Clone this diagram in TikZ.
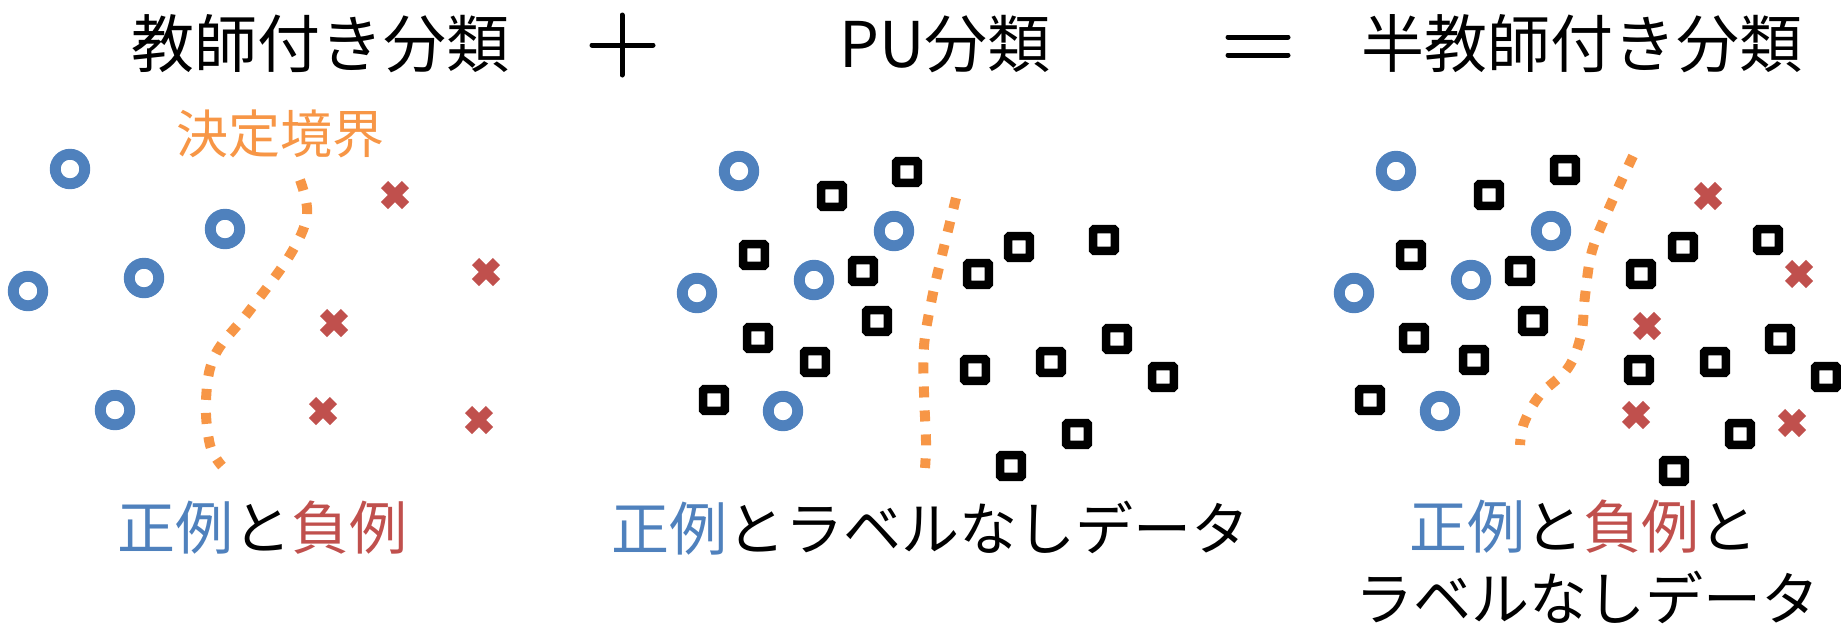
\documentclass[tikz,border=0pt]{standalone}
\usepackage{fontspec}
\setmainfont{Noto Sans CJK JP}
\usetikzlibrary{shapes.misc}
\definecolor{pblue}{HTML}{4F81BD}
\definecolor{nred}{HTML}{C0504D}
\definecolor{borange}{HTML}{F79646}
\tikzset{
  posex/.style={circle, draw=pblue, line width=10.9pt, minimum size=29.5pt, inner sep=0pt, outer sep=0pt},
  unlab/.style={rectangle, draw=black, line width=8.5pt, minimum size=21.7pt, inner sep=0pt, outer sep=0pt, rounded corners=1pt},
  negex/.style={cross out, draw=nred, line width=10pt, minimum size=21pt, inner sep=0pt, outer sep=0pt},
  bound/.style={draw=borange, line width=10pt, dash pattern=on 11pt off 13pt},
  title/.style={font=\fontsize{63pt}{70pt}\selectfont, inner sep=0pt},
  lab/.style={font=\fontsize{58pt}{66pt}\selectfont, inner sep=0pt},
  opline/.style={line width=5pt, line cap=round},
}
\begin{document}
\begin{tikzpicture}[x=1pt, y=-1pt]
\useasboundingbox (0,0) rectangle (1841,625);
% titles
\node[title] (t1) at (320,44) {教師付き分類};
\node[title] (t2) at (945,44) {PU分類};
\node[title] (t3) at (1582,44) {半教師付き分類};
% + and =
\coordinate (pv1) at (622,15); \coordinate (pv2) at (622,75);
\coordinate (ph1) at (592,45); \coordinate (ph2) at (653,45);
\draw[opline] (pv1) -- (pv2);
\draw[opline] (ph1) -- (ph2);
\coordinate (e1a) at (1228,37); \coordinate (e1b) at (1288,37);
\coordinate (e2a) at (1228,55); \coordinate (e2b) at (1288,55);
\draw[opline] (e1a) -- (e1b);
\draw[opline] (e2a) -- (e2b);
% panel 1
\node[font=\fontsize{52pt}{60pt}\selectfont, text=borange, inner sep=0pt] (db) at (280,134) {決定境界};
\draw[bound] plot[smooth, tension=0.6] coordinates {(300,180) (307,215) (290,255) (250,310) (215,355) (206,400) (210,445) (222,466)};
\node[posex] (a1) at (70,169) {};
\node[posex] (a2) at (225,229) {};
\node[posex] (a3) at (144,278) {};
\node[posex] (a4) at (28,291) {};
\node[posex] (a5) at (115,410) {};
\node[negex] (b1) at (395,195) {};
\node[negex] (b2) at (486,272) {};
\node[negex] (b3) at (334,323) {};
\node[negex] (b4) at (323,411) {};
\node[negex] (b5) at (479,420) {};
\node[lab] (l1) at (262,528) {\textcolor{pblue}{正例}と\textcolor{nred}{負例}};
% panel 2
\draw[bound] plot[smooth, tension=0.6] coordinates {(956,198) (943,251) (932,298) (924,346) (924,393) (926,441) (925,468)};
\node[posex] (c1) at (739,171) {};
\node[posex] (c2) at (894,231) {};
\node[posex] (c3) at (814,280) {};
\node[posex] (c4) at (697,293) {};
\node[posex] (c5) at (783,411) {};
\node[unlab] (u1) at (832,196) {};
\node[unlab] (u2) at (907,172) {};
\node[unlab] (u3) at (754,255) {};
\node[unlab] (u4) at (863,271) {};
\node[unlab] (u5) at (978,274) {};
\node[unlab] (u6) at (1019,247) {};
\node[unlab] (u7) at (1104,240) {};
\node[unlab] (u8) at (877,321) {};
\node[unlab] (u9) at (758,338) {};
\node[unlab] (u10) at (815,362) {};
\node[unlab] (u11) at (975,370) {};
\node[unlab] (u12) at (1051,362) {};
\node[unlab] (u13) at (1117,339) {};
\node[unlab] (u14) at (1163,377) {};
\node[unlab] (u15) at (714,400) {};
\node[unlab] (u16) at (1077,434) {};
\node[unlab] (u17) at (1011,466) {};
\node[lab] (l2) at (930,528) {\textcolor{pblue}{正例}とラベルなしデータ};
% panel 3
\draw[bound] plot[smooth, tension=0.6] coordinates {(1633,156) (1610,206) (1592,251) (1585,296) (1581,335) (1568,368) (1540,395) (1524,423) (1520,445)};
\node[posex] (d1) at (1396,171) {};
\node[posex] (d2) at (1551,231) {};
\node[posex] (d3) at (1471,280) {};
\node[posex] (d4) at (1354,293) {};
\node[posex] (d5) at (1440,411) {};
\node[unlab] (v1) at (1489,195) {};
\node[unlab] (v2) at (1565,170) {};
\node[unlab] (v3) at (1411,255) {};
\node[unlab] (v4) at (1520,271) {};
\node[unlab] (v5) at (1641,274) {};
\node[unlab] (v6) at (1683,247) {};
\node[unlab] (v7) at (1768,240) {};
\node[unlab] (v8) at (1533,321) {};
\node[unlab] (v9) at (1414,338) {};
\node[unlab] (v10) at (1474,360) {};
\node[unlab] (v11) at (1639,370) {};
\node[unlab] (v12) at (1715,362) {};
\node[unlab] (v13) at (1780,339) {};
\node[unlab] (v14) at (1826,377) {};
\node[unlab] (v15) at (1370,400) {};
\node[unlab] (v16) at (1740,434) {};
\node[unlab] (v17) at (1674,471) {};
\node[negex] (e1) at (1708,196) {};
\node[negex] (e2) at (1799,274) {};
\node[negex] (e3) at (1647,326) {};
\node[negex] (e4) at (1636,415) {};
\node[negex] (e5) at (1792,423) {};
\node[lab] (l3) at (1583,527) {\textcolor{pblue}{正例}と\textcolor{nred}{負例}と};
\node[lab] (l4) at (1587,597) {ラベルなしデータ};
\end{tikzpicture}
\end{document}
